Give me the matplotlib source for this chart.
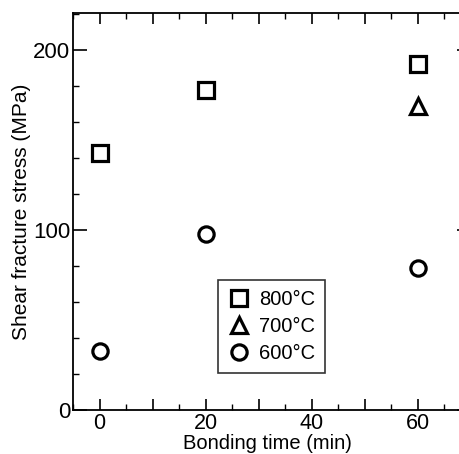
import matplotlib
matplotlib.use("Agg")
import matplotlib.pyplot as plt
from matplotlib.ticker import MultipleLocator, FuncFormatter

plt.rcParams['font.family'] = ['Liberation Sans', 'DejaVu Sans']

labels = ["800°C", "700°C", "600°C"]
markers = ["s", "^", "o"]
time_800 = [0, 20, 60]
stress_800 = [143, 178, 192]
time_700 = [60]
stress_700 = [169]
time_600 = [0, 20, 60]
stress_600 = [33, 98, 79]

W, H = 460, 454
fig = plt.figure(figsize=(W/100, H/100), dpi=100)
left, right, bottom, top = 73, 471, 410, 13
ax = fig.add_axes([left/W, 1 - bottom/H, (right-left)/W, (bottom-top)/H])

series = [(time_800, stress_800), (time_700, stress_700), (time_600, stress_600)]
sizes = {"s": 11, "^": 11.5, "o": 11}
for (t, s), m, lab in zip(series, markers, labels):
    ax.plot(t, s, linestyle='none', marker=m, markersize=sizes[m],
            markerfacecolor='white', markeredgecolor='black', markeredgewidth=2.3,
            label=lab)

ax.set_xlim(-5, 70)
ax.set_ylim(0, 220.5)
ax.xaxis.set_major_locator(MultipleLocator(10))
ax.xaxis.set_minor_locator(MultipleLocator(5))
ax.xaxis.set_major_formatter(FuncFormatter(lambda v, p: f"{int(round(v))}" if round(v) % 20 == 0 else ""))
ax.yaxis.set_major_locator(MultipleLocator(100))
ax.yaxis.set_minor_locator(MultipleLocator(20))
ax.tick_params(axis='both', which='major', direction='in', length=8, width=1.2,
               labelsize=16, top=True, right=True)
ax.tick_params(axis='y', which='major', length=10, pad=2)
ax.tick_params(axis='x', which='major', pad=2, labelsize=15.5)
ax.tick_params(axis='both', which='minor', direction='in', length=4.5, width=1.0,
               top=True, right=True)
for sp in ax.spines.values():
    sp.set_linewidth(1.3)

ax.set_xlabel("Bonding time (min)", fontsize=14.5)
ax.xaxis.set_label_coords((267.5-left)/(right-left), -(434-bottom)/(bottom-top))
ax.set_ylabel("Shear fracture stress (MPa)", fontsize=15)
ax.yaxis.set_label_coords(-(73-31)/(right-left), 0.5)

leg = ax.legend(loc='upper left', bbox_to_anchor=((218-left)/(right-left), 1 - (280-top)/(bottom-top)),
                fontsize=14.5, frameon=True, fancybox=False, edgecolor='black',
                handletextpad=0.45, borderpad=0.5, labelspacing=0.4, handlelength=1.1,
                borderaxespad=0, markerscale=1.0)
leg.get_frame().set_linewidth(1.2)

fig.savefig("out.png", dpi=100)
